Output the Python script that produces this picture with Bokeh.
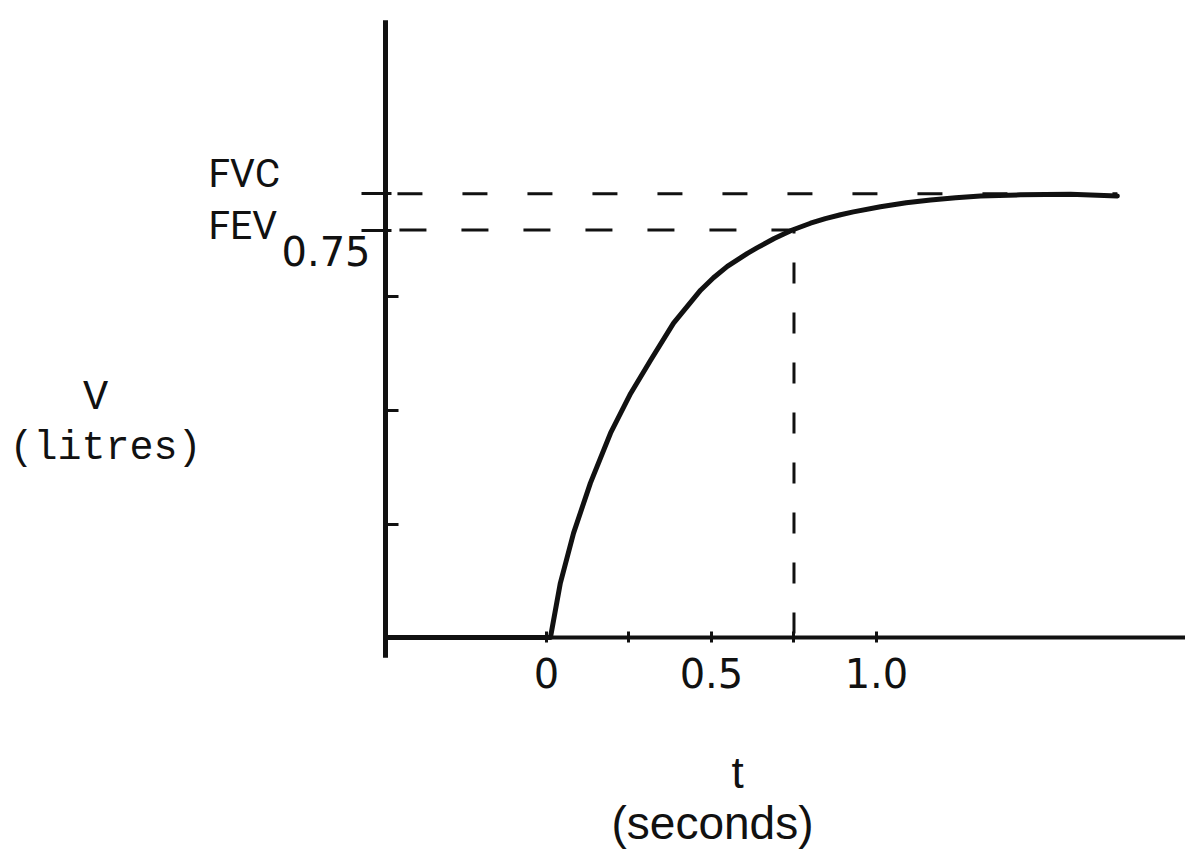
from bokeh.plotting import figure
from bokeh.models import Range1d, LinearAxis, FixedTicker, Label
from bokeh.embed import file_html
from bokeh.resources import INLINE

# ---- data ----
t = [-0.488, 0.012, 0.042, 0.082, 0.133, 0.194, 0.255, 0.315, 0.385, 0.467,
     0.506, 0.548, 0.609, 0.639, 0.690, 0.745, 0.800, 0.845, 0.891, 0.930,
     1.012, 1.090, 1.164, 1.240, 1.315, 1.436, 1.588, 1.730]
v = [0.0, 0.0, 0.48, 0.92, 1.36, 1.80, 2.15, 2.44, 2.77, 3.06,
     3.17, 3.27, 3.385, 3.435, 3.515, 3.59, 3.65, 3.69, 3.725, 3.75,
     3.795, 3.83, 3.855, 3.875, 3.89, 3.90, 3.905, 3.89]

FVC = 3.91
FEV = 3.59
t_fev = 0.75

x_label_ticks = [0, 0.5, 1.0]
x_labels = ["0", "0.5", "1.0"]
x_minor_ticks = [0.25, 0.75]
y_ticks = [1, 2, 3]

t_axis = -0.488      # where the V axis crosses the t axis
t_right = 1.94
v_low, v_high = -0.176, 5.436

INK = "#111111"

p = figure(width=1185, height=849,
           x_range=Range1d(-1.6545, 1.9364), y_range=Range1d(-1.8678, 5.6123),
           output_backend="svg", toolbar_location=None,
           x_axis_type=None, y_axis_type=None, min_border=0)
p.outline_line_color = None
p.background_fill_color = "white"
p.border_fill_color = "white"

xa = LinearAxis(fixed_location=0, bounds=(t_axis, t_right),
                ticker=FixedTicker(ticks=x_label_ticks, minor_ticks=x_minor_ticks),
                major_label_overrides={k: s for k, s in zip(x_label_ticks, x_labels)},
                axis_line_width=4, axis_line_color=INK,
                major_tick_in=6, major_tick_out=5, major_tick_line_width=3,
                major_tick_line_color=INK,
                minor_tick_in=6, minor_tick_out=5, minor_tick_line_width=3,
                minor_tick_line_color=INK,
                major_label_text_font="DejaVu Sans", major_label_text_font_size="40px",
                major_label_text_color=INK, major_label_standoff=15)
p.add_layout(xa, "below")

# V axis: inner ticks at 1, 2, 3 litres
ya = LinearAxis(fixed_location=t_axis, bounds=(v_low, v_high),
                ticker=FixedTicker(ticks=[], minor_ticks=y_ticks),
                axis_line_width=5, axis_line_color=INK,
                major_tick_line_color=None,
                minor_tick_in=13, minor_tick_out=0, minor_tick_line_width=3,
                minor_tick_line_color=INK)
p.add_layout(ya, "left")

# V axis again: outer marks at FEV and FVC
ya2 = LinearAxis(fixed_location=t_axis, bounds=(v_low, v_high),
                 ticker=FixedTicker(ticks=[], minor_ticks=[FEV, FVC]),
                 axis_line_width=5, axis_line_color=INK,
                 major_tick_line_color=None,
                 minor_tick_in=6, minor_tick_out=24, minor_tick_line_width=3,
                 minor_tick_line_color=INK)
p.add_layout(ya2, "left")

# dashed reference lines
p.line([t_axis, t[-1]], [FVC, FVC], line_width=3, color=INK, line_dash="25 40",
       line_dash_offset=-12)
p.line([t_axis, t_fev], [FEV, FEV], line_width=3, color=INK, line_dash="27 35",
       line_dash_offset=-14)
p.line([t_fev, t_fev], [0, FEV], line_width=3, color=INK, line_dash="21 29",
       line_dash_offset=-4)

# volume-time curve
p.line(t, v, line_width=5, color=INK, line_join="round", line_cap="round")

# texts (screen units: from canvas left / bottom)
def lab(text, x, y, font, size, align="left"):
    p.add_layout(Label(x=x, y=y, x_units="screen", y_units="screen", text=text,
                       text_font=font, text_font_size=size, text_color=INK,
                       text_align=align, text_baseline="alphabetic"))

lab("FVC", 208, 676, "Roboto", "39px")
lab("FEV", 208, 624, "Roboto", "39px")
lab("0.75", 281, 599, "DejaVu Sans", "40px")
lab("V", 95, 452, "Liberation Mono", "42px", "center")
lab("(litres)", 105, 401, "Liberation Mono", "40px", "center")
lab("t", 737, 77, "Liberation Sans", "44px", "center")
lab("(seconds)", 712, 27, "Liberation Sans", "46px", "center")

open("out.html", "w").write(file_html(p, INLINE))
